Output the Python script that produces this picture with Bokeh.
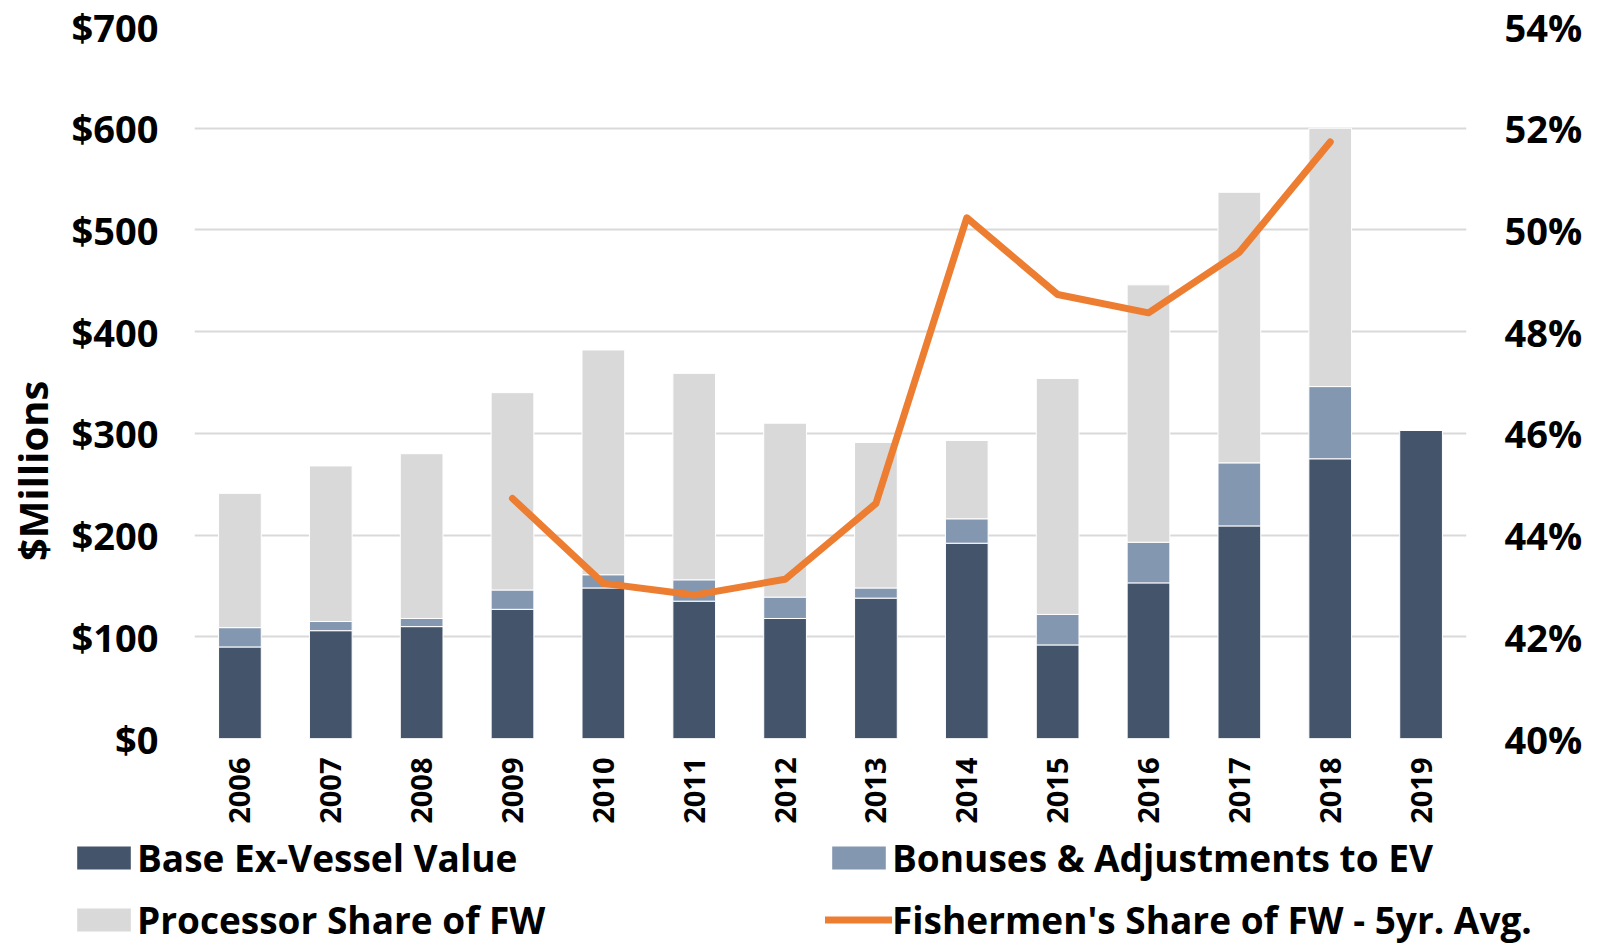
import math
from bokeh.plotting import figure
from bokeh.layouts import column
from bokeh.models import (Range1d, LinearAxis, FactorRange, SingleIntervalTicker,
                          PrintfTickFormatter, Legend, LegendItem, ColumnDataSource)
from bokeh.embed import file_html
from bokeh.resources import INLINE

years = ["2006", "2007", "2008", "2009", "2010", "2011", "2012",
         "2013", "2014", "2015", "2016", "2017", "2018", "2019"]
base_ev = [90, 106, 110, 127, 148, 135, 118, 138, 192, 92, 153, 209, 275, 303]
bonuses = [19, 9, 8, 19, 13, 21, 21, 10, 24, 30, 40, 62, 71, 0]
processor = [132, 153, 162, 194, 221, 203, 171, 143, 77, 232, 253, 266, 254, 0]
line_years = ["2009", "2010", "2011", "2012", "2013", "2014", "2015", "2016", "2017", "2018"]
fishermen_share = [44.72, 43.05, 42.82, 43.13, 44.62, 50.24, 48.73, 48.37, 49.56, 51.73]
series_names = ["Base Ex-Vessel Value", "Bonuses & Adjustments to EV",
                "Processor Share of FW", "Fishermen's Share of FW - 5yr. Avg."]

FONT = "Open Sans"
C_BASE, C_BONUS, C_PROC, C_LINE = "#44546A", "#8497B0", "#D9D9D9", "#ED7D31"

xr = FactorRange(*years, range_padding=0)
p = figure(width=1597, height=828, x_range=xr,
           y_range=Range1d(0, 700), output_backend="svg", toolbar_location=None,
           min_border_left=194, min_border_right=131, min_border_top=26, min_border_bottom=90)
p.outline_line_color = None
p.background_fill_color = "white"
p.border_fill_color = "white"
p.extra_y_ranges = {"pct": Range1d(40, 54)}

src = ColumnDataSource(dict(years=years, base=base_ev, bonus=bonuses, proc=processor))
rs = p.vbar_stack(["base", "bonus", "proc"], x="years", width=0.47, source=src,
                  color=[C_BASE, C_BONUS, C_PROC], line_color="white", line_width=1)
ln = p.line(line_years, fishermen_share, y_range_name="pct", color=C_LINE,
            line_width=7, line_cap="round", line_join="round")

la = p.yaxis[0]
la.ticker = SingleIntervalTicker(interval=100)
la.formatter = PrintfTickFormatter(format="$%d")
ra = LinearAxis(y_range_name="pct", ticker=SingleIntervalTicker(interval=2),
                formatter=PrintfTickFormatter(format="%d%%"))
p.add_layout(ra, "right")
for ax in (la, ra):
    ax.axis_line_color = None
    ax.major_tick_line_color = None
    ax.minor_tick_line_color = None
    ax.major_label_text_font = FONT
    ax.major_label_text_font_style = "bold"
    ax.major_label_text_font_size = "38px"
    ax.major_label_text_color = "black"
la.major_label_standoff = 30
ra.major_label_standoff = 32

la.axis_label = "$Millions" + "\u00a0" * 17
la.axis_label_text_font = FONT
la.axis_label_text_font_style = "bold"
la.axis_label_text_font_size = "40px"
la.axis_label_text_color = "black"
la.axis_label_standoff = 9

xa = p.xaxis[0]
xa.axis_line_color = None
xa.major_tick_line_color = None
xa.major_label_orientation = math.pi / 2
xa.major_label_text_font = FONT
xa.major_label_text_font_style = "bold"
xa.major_label_text_font_size = "29px"
xa.major_label_text_color = "black"
xa.major_label_standoff = 13

p.xgrid.grid_line_color = None
p.ygrid.grid_line_color = "#D9D9D9"
p.ygrid.grid_line_width = 2

# legend strip: same data drawn in a y window where nothing shows, only the legend is visible
lg = figure(width=1597, height=117, x_range=xr, y_range=Range1d(2000, 2100),
            output_backend="svg", toolbar_location=None,
            x_axis_location=None, y_axis_location=None,
            min_border_left=0, min_border_right=0, min_border_top=0, min_border_bottom=0)
lg.outline_line_color = None
lg.grid.visible = False
lg.extra_y_ranges = {"pct": Range1d(2000, 2100)}
ks = lg.vbar_stack(["base", "bonus", "proc"], x="years", width=0.47, source=src,
                   color=[C_BASE, C_BONUS, C_PROC], line_color=None)
kl = lg.line(line_years, fishermen_share, y_range_name="pct", color=C_LINE,
             line_width=7, line_cap="round")
for f in (p, lg):
    try:
        f.frame_align = False
    except Exception:
        pass

def mk_legend(items, x, y):
    leg = Legend(items=items, location=(x, y), orientation="vertical",
                 glyph_width=67, glyph_height=29, label_standoff=0, spacing=11,
                 padding=0, margin=0, border_line_color=None, background_fill_alpha=0,
                 label_text_font=FONT, label_text_font_style="bold",
                 label_text_font_size="37px", label_text_color="black")
    lg.add_layout(leg, "center")

mk_legend([LegendItem(label=series_names[0], renderers=[ks[0]]),
           LegendItem(label=series_names[2], renderers=[ks[2]])], 70, 0)
mk_legend([LegendItem(label=series_names[1], renderers=[ks[1]]),
           LegendItem(label=series_names[3], renderers=[kl])], 825, 0)

open("out.html", "w").write(file_html(column(p, lg, spacing=0), INLINE))
